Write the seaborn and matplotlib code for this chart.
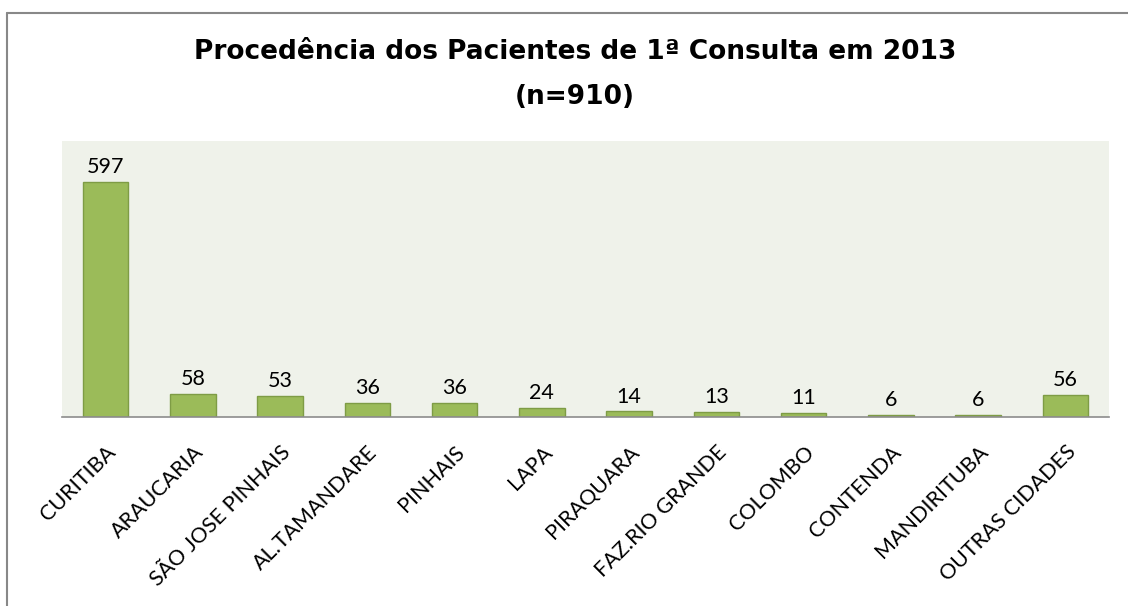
import matplotlib
matplotlib.use("Agg")
import matplotlib.pyplot as plt
import seaborn as sns
import pandas as pd
from matplotlib.lines import Line2D

categories = ["CURITIBA", "ARAUCARIA", "SÃO JOSE PINHAIS", "AL.TAMANDARE", "PINHAIS",
              "LAPA", "PIRAQUARA", "FAZ.RIO GRANDE", "COLOMBO", "CONTENDA",
              "MANDIRITUBA", "OUTRAS CIDADES"]
values = [597, 58, 53, 36, 36, 24, 14, 13, 11, 6, 6, 56]
title_line1 = "Procedência dos Pacientes de 1ª Consulta em 2013"
title_line2 = "(n=910)"

df = pd.DataFrame({"cidade": categories, "n": values})

sns.set_theme(style="white")
plt.rcParams['font.family'] = ['Lato', 'DejaVu Sans']

fig = plt.figure(figsize=(11.28, 6.06), dpi=100)
ax = fig.add_axes([62/1128, 1 - 417/606, (1109-62)/1128, (417-141)/606])
ax.set_facecolor("#EFF2EA")

sns.barplot(data=df, x="cidade", y="n", color="#9BBB59", saturation=1, width=0.52,
            edgecolor="#7E9C45", linewidth=1.0, ax=ax)

ax.set_ylim(0, 701)
ax.set_xlim(-0.5, len(categories) - 0.5)
ax.set_yticks([])
ax.set_xlabel("")
ax.set_ylabel("")
for s in ["top", "right", "left"]:
    ax.spines[s].set_visible(False)
ax.spines["bottom"].set_color("#8C8C8C")
ax.spines["bottom"].set_linewidth(1.2)

for i, v in enumerate(values):
    ax.annotate(str(v), (i, v), xytext=(0, 3.5), textcoords="offset points",
                ha="center", va="bottom", fontsize=15.5, color="#000000")

ax.tick_params(axis="x", length=0, pad=18)
ax.set_xticks(range(len(categories)))
ax.set_xticklabels(categories, rotation=45, ha="right", rotation_mode="anchor",
                   fontsize=15.5, color="#000000")

fig.text(575/1128, 1 - 52/606, title_line1, ha="center", va="center",
         fontsize=19, fontweight="bold", color="#000000", family=["DejaVu Sans"])
fig.text(575/1128, 1 - 97/606, title_line2, ha="center", va="center",
         fontsize=19, fontweight="bold", color="#000000", family=["DejaVu Sans"])

# outer chart border (gray)
fig.add_artist(Line2D([7/1128, 1], [1 - 13/606, 1 - 13/606], transform=fig.transFigure,
                      color="#888888", linewidth=1.5))
fig.add_artist(Line2D([7/1128, 7/1128], [0, 1 - 13/606], transform=fig.transFigure,
                      color="#888888", linewidth=1.5))

fig.savefig("out.png", dpi=100, facecolor="white")
